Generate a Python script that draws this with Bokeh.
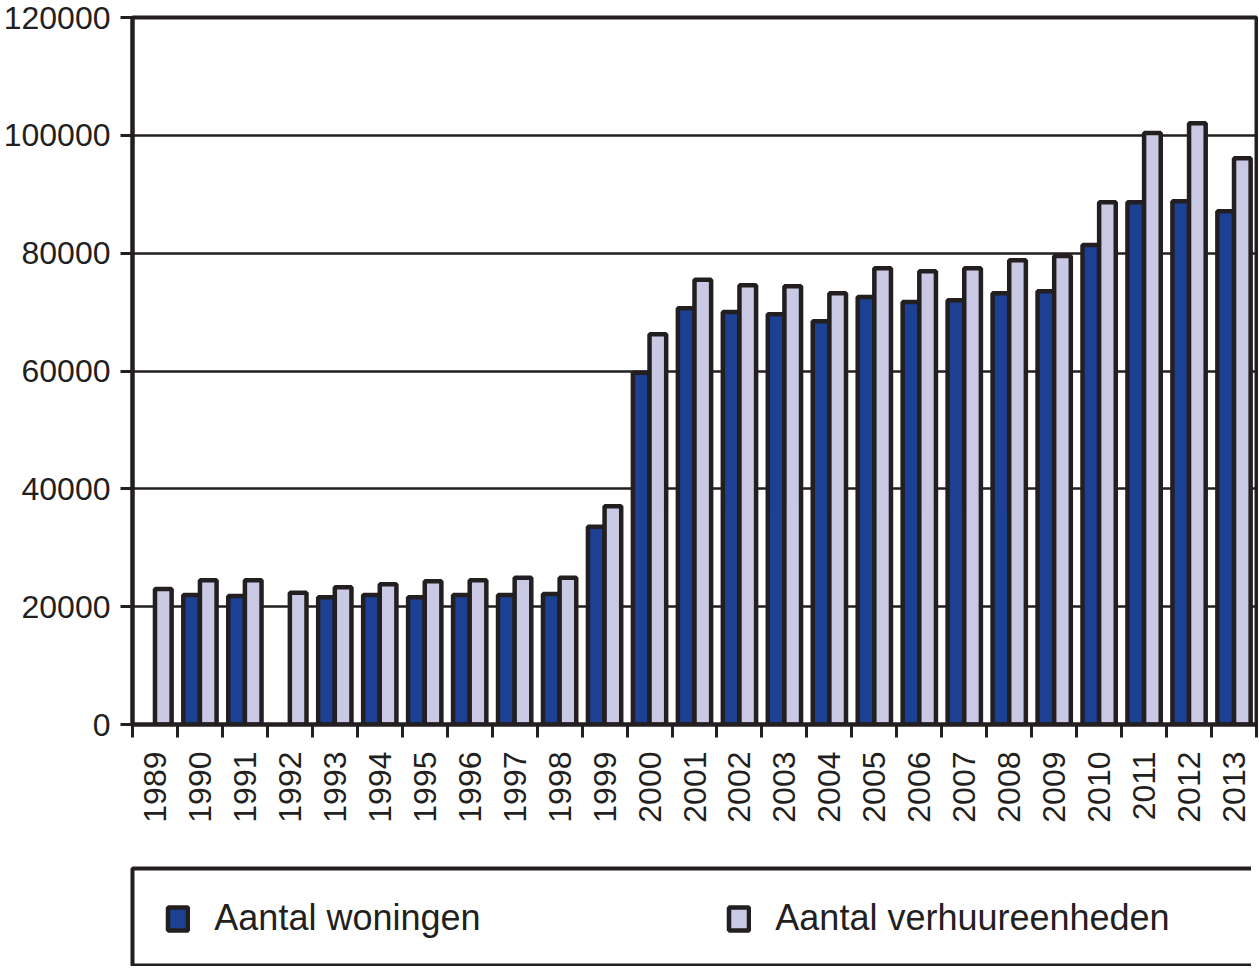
import math
from bokeh.plotting import figure
from bokeh.layouts import column
from bokeh.models import (ColumnDataSource, Range1d, FixedTicker, BasicTickFormatter,
                          Legend, LegendItem, LinearAxis, Grid)
from bokeh.embed import file_html
from bokeh.resources import INLINE

years = ["1989", "1990", "1991", "1992", "1993", "1994", "1995", "1996", "1997", "1998",
         "1999", "2000", "2001", "2002", "2003", "2004", "2005", "2006", "2007", "2008",
         "2009", "2010", "2011", "2012", "2013"]
woningen = [None, 22000, 21800, None, 21600, 22000, 21600, 22000, 22000, 22150,
            33550, 59700, 70650, 70000, 69650, 68450, 72550, 71700, 72000, 73200,
            73550, 81400, 88650, 88800, 87100]
verhuureenheden = [23000, 24500, 24500, 22350, 23300, 23800, 24300, 24500, 24900, 24900,
                   37050, 66250, 75500, 74550, 74400, 73200, 77450, 76950, 77450, 78800,
                   79500, 88650, 100400, 102050, 96100]
y_ticks = [0, 20000, 40000, 60000, 80000, 100000, 120000]
series_names = ["Aantal woningen", "Aantal verhuureenheden"]

DARK = "#1c4194"
LIGHT = "#c9c9e5"
INK = "#231f20"
FONT = "Liberation Sans"
BAR_W = 0.37
LEFT = 125

def make_source(values, offset):
    xs, tops = [], []
    for i, v in enumerate(values):
        if v is not None:
            xs.append(i + offset)
            tops.append(v)
    return ColumnDataSource(dict(x=xs, top=tops))

src_w = make_source(woningen, -BAR_W / 2)
src_v = make_source(verhuureenheden, BAR_W / 2)

p = figure(frame_width=1124, frame_height=707,
           x_range=Range1d(-0.5, len(years) - 0.5), y_range=Range1d(0, 120000),
           output_backend="svg", toolbar_location=None,
           min_border_left=LEFT, min_border_top=17, min_border_right=2, min_border_bottom=110,
           x_axis_type=None, y_axis_type=None)

p.outline_line_color = INK
p.outline_line_width = 4

xaxis = LinearAxis(ticker=FixedTicker(ticks=list(range(len(years))),
                                      minor_ticks=[i - 0.5 for i in range(len(years) + 1)]))
xaxis.major_label_overrides = {i: y for i, y in enumerate(years)}
xaxis.major_label_orientation = math.pi / 2
xaxis.major_tick_line_color = None
xaxis.major_tick_out = 0
xaxis.major_tick_in = 0
xaxis.minor_tick_line_color = INK
xaxis.minor_tick_line_width = 3
xaxis.minor_tick_out = 13
xaxis.minor_tick_in = 0
xaxis.axis_line_color = INK
xaxis.axis_line_width = 4
xaxis.major_label_standoff = 14
xaxis.major_label_text_font = FONT
xaxis.major_label_text_font_size = "32px"
xaxis.major_label_text_color = INK
p.add_layout(xaxis, "below")

yaxis = LinearAxis(ticker=FixedTicker(ticks=y_ticks),
                   formatter=BasicTickFormatter(use_scientific=False))
yaxis.minor_tick_line_color = None
yaxis.major_tick_line_color = INK
yaxis.major_tick_line_width = 3
yaxis.major_tick_out = 12
yaxis.major_tick_in = 0
yaxis.axis_line_color = INK
yaxis.axis_line_width = 4
yaxis.major_label_standoff = 10
yaxis.major_label_text_font = FONT
yaxis.major_label_text_font_size = "32px"
yaxis.major_label_text_color = INK
p.add_layout(yaxis, "left")

p.add_layout(Grid(dimension=1, ticker=yaxis.ticker, grid_line_color=INK, grid_line_width=2.5))

bar_style = dict(line_color=INK, line_width=4.5)
p.vbar(x="x", top="top", width=BAR_W, bottom=0, source=src_w, fill_color=DARK, **bar_style)
p.vbar(x="x", top="top", width=BAR_W, bottom=0, source=src_v, fill_color=LIGHT, **bar_style)

# legend panel (boxed, full width beneath the chart)
lg = figure(frame_width=1124, frame_height=98,
            x_range=Range1d(-0.5, len(years) - 0.5), y_range=Range1d(0, 120000),
            output_backend="svg", toolbar_location=None,
            min_border_left=LEFT, min_border_top=34, min_border_right=2, min_border_bottom=0,
            x_axis_type=None, y_axis_type=None)
lg.outline_line_color = INK
lg.outline_line_width = 4
lg.xgrid.visible = False
lg.ygrid.visible = False
k1 = lg.vbar(x="x", top="top", width=BAR_W, bottom=0, source=src_w, fill_color=DARK, **bar_style)
k2 = lg.vbar(x="x", top="top", width=BAR_W, bottom=0, source=src_v, fill_color=LIGHT, **bar_style)
k1.visible = False
k2.visible = False

legend = Legend(items=[LegendItem(label=series_names[0], renderers=[k1]),
                       LegendItem(label=series_names[1], renderers=[k2])],
                orientation="horizontal", location=(123, 27), click_policy="none")
legend.border_line_color = None
legend.background_fill_alpha = 0
legend.label_text_font = FONT
legend.label_text_font_size = "36px"
legend.label_text_color = INK
legend.glyph_width = 25
legend.glyph_height = 29
legend.label_standoff = 24
legend.label_width = 446
legend.spacing = 66
legend.padding = 0
legend.margin = 0
lg.add_layout(legend, "center")

layout = column(p, lg, spacing=0)
open("out.html", "w").write(file_html(layout, INLINE))
